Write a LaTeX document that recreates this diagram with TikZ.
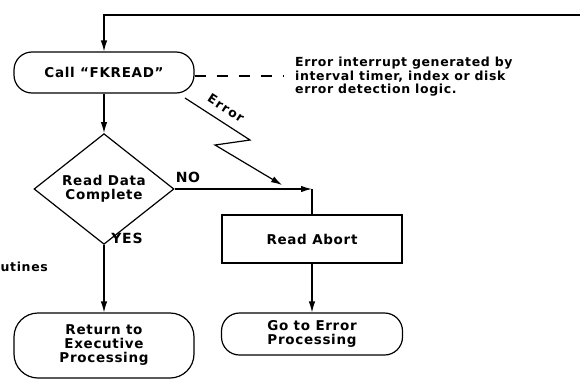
\documentclass[tikz,border=0pt]{standalone}
\usepackage{fontspec}
\setmainfont{DejaVu Sans}[LetterSpace=5]
\newfontfamily\spacedfont{DejaVu Sans}[LetterSpace=10]
\usetikzlibrary{shapes.geometric,arrows.meta}
\tikzset{
  base/.style={draw, line width=1.2pt, inner sep=0pt, align=center},
  pill/.style={base},
  boxnode/.style={base},
  decision/.style={base, diamond},
  lbl/.style={font=\fontsize{14}{15}\selectfont\bfseries, inner sep=0pt},
  note/.style={font=\fontsize{12.5}{13.5}\selectfont\bfseries, inner sep=0pt, align=left},
  flow/.style={line width=1.2pt, -{Latex[length=11pt,width=6.5pt]}},
  plain/.style={line width=1.2pt},
  dashline/.style={line width=1.2pt, dash pattern=on 11pt off 11pt}
}
\begin{document}
\begin{tikzpicture}[x=1pt,y=-1pt, font=\fontsize{13.5}{14}\selectfont\bfseries]
\useasboundingbox (0,0) rectangle (580,388);

% nodes
\node[pill, minimum width=180pt, minimum height=41pt, rounded corners=18pt] (call) at (104,72.5) {Call “FKREAD”};
\node[decision, minimum width=140pt, minimum height=76pt] (dec) at (104,189) {Read Data\\Complete};
\node[pill, minimum width=180pt, minimum height=65pt, rounded corners=24pt] (ret) at (104,345.5) {Return to\\Executive\\Processing};
\node[boxnode, minimum width=180pt, minimum height=48pt] (abort) at (312,239) {Read Abort};
\node[pill, minimum width=181pt, minimum height=42pt, rounded corners=18pt] (go) at (312,334) {Go to Error\\Processing};

% texts
\node[note, anchor=west] (notetext) at (295,77) {Error interrupt generated by\\interval timer, index or disk\\error detection logic.};
\node[inner sep=0pt, rotate=-33, font=\fontsize{12.5}{13}\spacedfont\bfseries] (errlbl) at (226,108) {Error};
\node[lbl] (nolbl) at (188,177) {NO};
\node[lbl] (yeslbl) at (127,238) {YES};
\node[note, anchor=west] (utines) at (0.5,267) {utines};

% coordinates
\coordinate (topR) at (580,15);
\coordinate (topL) at (104,15);
\coordinate (dashend) at (283,76);
\coordinate (e1) at (185,98);
\coordinate (e2) at (250,140);
\coordinate (e3) at (215,145);
\coordinate (e4) at (282,185);
\coordinate (nocorner) at (312,189);

% connectors
\draw[flow] (topR) -- (topL) -- (call.north);
\draw[dashline] (call.east |- dashend) -- (dashend);
\draw[flow] (e1) -- (e2) -- (e3) -- (e4);
\draw[flow] (call) -- (dec);
\draw[flow] (dec.east) -- (nocorner);
\draw[plain] (nocorner) -- (abort.north);
\draw[flow] (dec.south) -- (ret.north);
\draw[flow] (abort.south) -- (go.north);
\end{tikzpicture}
\end{document}
